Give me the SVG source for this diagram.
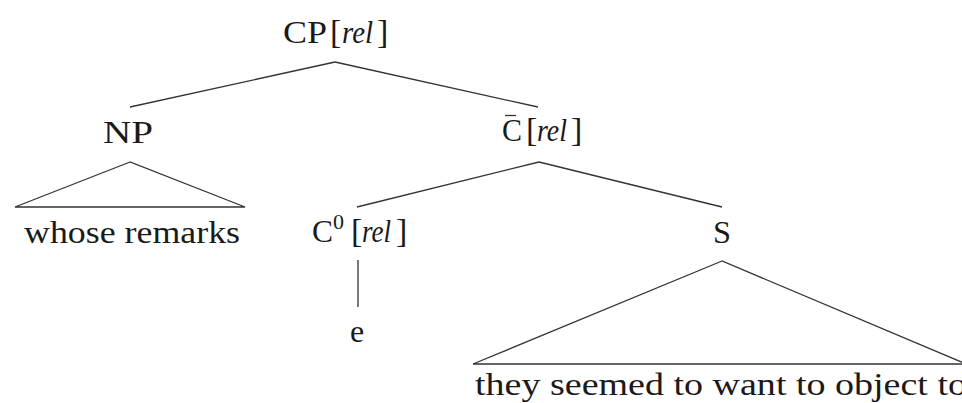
<svg xmlns="http://www.w3.org/2000/svg" width="962" height="403" viewBox="0 0 962 403">
<style>
text{font-family:"Liberation Serif","Times New Roman",serif;font-size:32px;fill:#1a1a1a}
.it{font-style:italic}
.br{font-size:34px}
.sup{font-size:22px}
line,polyline{stroke:#333;stroke-width:1.3;fill:none}
</style>
<rect width="962" height="403" fill="#fff"/>
<g id="connectors">
<line x1="335" y1="62" x2="130" y2="107"/>
<line x1="335" y1="62" x2="538" y2="107"/>
<line x1="539" y1="162" x2="357" y2="207"/>
<line x1="539" y1="162" x2="722" y2="207"/>
<line x1="358" y1="260" x2="358" y2="307"/>
</g>
<g id="cp">
<text x="283" y="43" textLength="44" lengthAdjust="spacingAndGlyphs">CP</text>
<text class="br" x="330" y="43">[</text>
<text class="it" x="342" y="43" textLength="31" lengthAdjust="spacingAndGlyphs">rel</text>
<text class="br" x="377" y="43">]</text>
</g>
<g id="np">
<text x="103" y="143" textLength="50" lengthAdjust="spacingAndGlyphs">NP</text>
<polygon points="130,162 15,207 245,207" fill="none" stroke="#333" stroke-width="1.3"/>
<text x="24" y="243" textLength="216" lengthAdjust="spacingAndGlyphs">whose remarks</text>
</g>
<g id="cbar">
<text x="502" y="141" textLength="20" lengthAdjust="spacingAndGlyphs">C</text>
<line x1="505" y1="115.5" x2="516" y2="115.5" stroke="#1a1a1a" stroke-width="1.4"/>
<text class="br" x="526" y="141">[</text>
<text class="it" x="537" y="141" textLength="30" lengthAdjust="spacingAndGlyphs">rel</text>
<text class="br" x="571" y="141">]</text>
</g>
<g id="c0">
<text x="312" y="242" textLength="21" lengthAdjust="spacingAndGlyphs">C</text>
<text class="sup" x="333" y="229">0</text>
<text class="br" x="351" y="242">[</text>
<text class="it" x="362" y="242" textLength="29" lengthAdjust="spacingAndGlyphs">rel</text>
<text class="br" x="396" y="242">]</text>
</g>
<g id="e">
<text x="350" y="342">e</text>
</g>
<g id="s">
<text x="713" y="243" textLength="18" lengthAdjust="spacingAndGlyphs">S</text>
<polygon points="722,261 473,364 966,364" fill="none" stroke="#333" stroke-width="1.3"/>
<text x="475" y="395" textLength="492" lengthAdjust="spacingAndGlyphs">they seemed to want to object to</text>
</g>
</svg>
